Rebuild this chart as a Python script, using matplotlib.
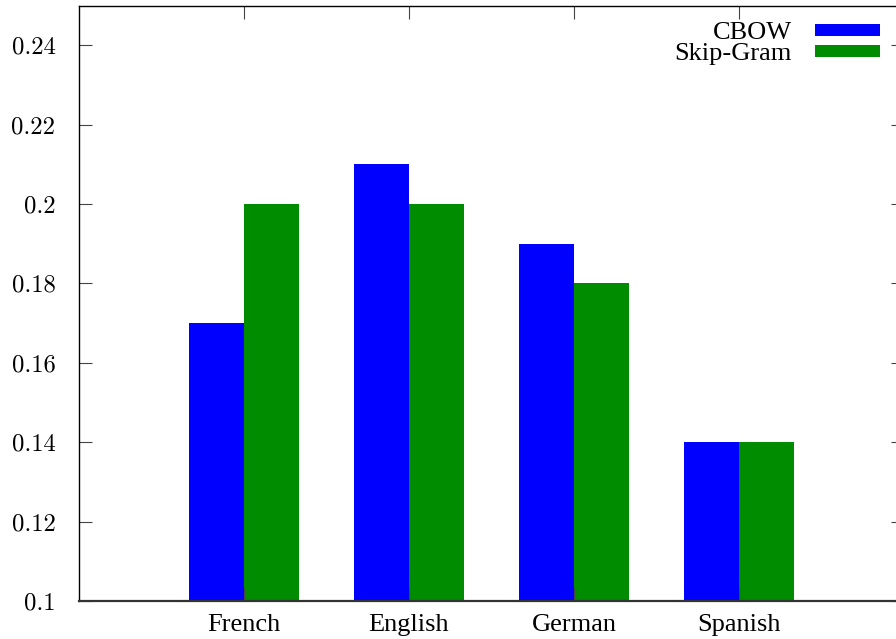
import matplotlib
matplotlib.use("Agg")
import matplotlib.pyplot as plt
from matplotlib.patches import Rectangle
import numpy as np

# Data
languages = ["French", "English", "German", "Spanish"]
cbow = [0.17, 0.21, 0.19, 0.14]
skip_gram = [0.20, 0.20, 0.18, 0.14]
series_names = ["CBOW", "Skip-Gram"]
y_ticks = [0.1, 0.12, 0.14, 0.16, 0.18, 0.2, 0.22, 0.24]
y_tick_labels = ["0.1", "0.12", "0.14", "0.16", "0.18", "0.2", "0.22", "0.24"]

W, H, DPI = 896, 639, 100
fig = plt.figure(figsize=(W / DPI, H / DPI), dpi=DPI)
left, right, bottom, top = 79, 904, 601, 5.5
ax = fig.add_axes([left / W, (H - bottom) / H, (right - left) / W, (bottom - top) / H])

x = np.arange(len(languages))
bw = 1 / 3
blue = "#0000ff"
green = "#008c00"
colors = [blue, green]
ax.bar(x - bw / 2, cbow, width=bw, color=blue, linewidth=0)
ax.bar(x + bw / 2, skip_gram, width=bw, color=green, linewidth=0)

ax.set_xlim(-1, 4)
ax.set_ylim(0.1, 0.25)

ax.set_xticks(x)
ax.set_xticklabels(languages, family="Liberation Serif", fontsize=19)
ax.set_yticks(y_ticks)
ax.set_yticklabels(y_tick_labels, family="cmr10", fontsize=17.8)

ax.tick_params(axis="both", direction="in", length=9.5, width=0.8, color="#444444",
               top=True, right=True)
ax.tick_params(axis="y", pad=17)
ax.tick_params(axis="x", pad=9.5)

for s in ax.spines.values():
    s.set_linewidth(1.0)
    s.set_color("black")
ax.spines["bottom"].set_linewidth(1.6)
ax.spines["bottom"].set_color("#333333")

# Key in the top-right corner: label right-aligned, colour swatch to its right
def px(xp, yp):
    return xp / W, (H - yp) / H

text_right = 792
sw_left, sw_right = 815, 880
row_baselines = [39, 60]
row_swatch_top = [24, 45]
sw_h = 12
for name, col, base, st in zip(series_names, colors, row_baselines, row_swatch_top):
    tx, ty = px(text_right, base)
    fig.text(tx, ty, name, ha="right", va="baseline", family="Liberation Serif", fontsize=19)
    rx, ry = px(sw_left, st + sw_h)
    fig.patches.append(Rectangle((rx, ry), (sw_right - sw_left) / W, sw_h / H,
                                 transform=fig.transFigure, facecolor=col, edgecolor="none"))

fig.savefig("out.png", dpi=DPI)
